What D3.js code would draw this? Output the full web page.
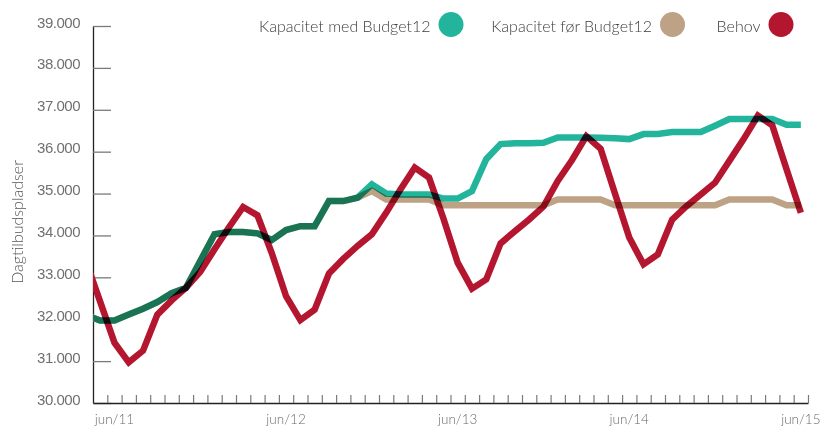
<!DOCTYPE html>
<html>
<head>
<meta charset="utf-8">
<script src="https://cdn.jsdelivr.net/npm/d3@7"></script>
<style>
  body { margin: 0; background: #fff; }
  svg { display: block; font-family: Lato, "Open Sans", sans-serif; }
  .line { fill: none; stroke-width: 6.5; mix-blend-mode: multiply; }
</style>
</head>
<body>
<div class="graphContainer"></div>
<script>
// months shown, first one (apr/11) sits just left of the axis and gets clipped
var months = ["apr/11","maj/11","jun/11","jul/11","aug/11","sep/11","okt/11","nov/11","dec/11",
  "jan/12","feb/12","mar/12","apr/12","maj/12","jun/12","jul/12","aug/12","sep/12","okt/12","nov/12","dec/12",
  "jan/13","feb/13","mar/13","apr/13","maj/13","jun/13","jul/13","aug/13","sep/13","okt/13","nov/13","dec/13",
  "jan/14","feb/14","mar/14","apr/14","maj/14","jun/14","jul/14","aug/14","sep/14","okt/14","nov/14","dec/14",
  "jan/15","feb/15","mar/15","apr/15","maj/15","jun/15"];

var xLabels = ["jun/11", "jun/12", "jun/13", "jun/14", "jun/15"];
var yTicks  = [30000, 31000, 32000, 33000, 34000, 35000, 36000, 37000, 38000, 39000];

var medBudget = [32100, 31970, 31970, 32110, 32250, 32410, 32620, 32750, 33390, 34030, 34080,
  34080, 34050, 33890, 34130, 34220, 34220, 34820, 34820, 34900, 35220,
  35000, 34980, 34980, 34980, 34880, 34880, 35060, 35820, 36180, 36200,
  36200, 36210, 36340, 36340, 36340, 36330, 36320, 36300, 36420, 36420,
  36470, 36470, 36470, 36620, 36780, 36780, 36780, 36780, 36640, 36640];

var forBudget = [32100, 31970, 31970, 32110, 32250, 32410, 32620, 32750, 33390, 34030, 34080,
  34080, 34050, 33890, 34130, 34220, 34220, 34820, 34820, 34900, 35060,
  34860, 34860, 34860, 34860, 34720, 34720, 34720, 34720, 34720, 34720,
  34720, 34720, 34860, 34860, 34860, 34860, 34720, 34720, 34720, 34720,
  34720, 34720, 34720, 34720, 34860, 34860, 34860, 34860, 34720, 34720];

var behov = [33390, 32420, 31440, 30970, 31250, 32110, 32450, 32750, 33130, 33670, 34190,
  34680, 34480, 33580, 32550, 31980, 32230, 33090, 33440, 33750, 34030,
  34540, 35100, 35620, 35380, 34410, 33350, 32730, 32950, 33810, 34100,
  34380, 34690, 35300, 35800, 36370, 36070, 35000, 33950, 33310, 33550,
  34380, 34700, 34980, 35260, 35780, 36300, 36860, 36630, 35580, 34540];

var series = [
  { name: "Kapacitet med Budget12", values: medBudget, color: "#22b59c", cx: 451 },
  { name: "Kapacitet før Budget12", values: forBudget, color: "#bda285", cx: 672.5 },
  { name: "Behov",                  values: behov,     color: "#b4162f", cx: 781 }
];

var w = 820,
    h = 430,
    plotLeft = 93, plotRight = 808, plotTop = 26, plotBottom = 403;

// category k is centred on x(k), tick marks sit between categories
var x = d3.scaleLinear()
  .domain([0.5, 50.5])
  .range([plotLeft, plotRight]);

var y = d3.scaleLinear()
  .domain([30000, 39000])
  .range([plotBottom, plotTop]);

var svg = d3.select(".graphContainer")
  .append("svg")
  .attr("width", w)
  .attr("height", h);

svg.append("clipPath")
  .attr("id", "plot")
  .append("rect")
    .attr("x", plotLeft)
    .attr("y", 0)
    .attr("width", w - plotLeft)
    .attr("height", h);

// y axis: ticks point inward, labels sit on the tick line
var axisLeft = d3.axisLeft(y)
  .tickValues(yTicks)
  .tickSizeInner(-18)
  .tickSizeOuter(0)
  .tickPadding(13)
  .tickFormat(function (d) { return d3.format(",")(d).replace(",", "."); });

var gy = svg.append("g")
  .attr("transform", "translate(" + plotLeft + ",0)")
  .call(axisLeft);

gy.select(".domain").attr("stroke", "#222").attr("stroke-width", 1.3);
gy.selectAll(".tick line").attr("stroke", "#7a7a7a").attr("stroke-width", 1.3);
gy.selectAll(".tick text")
  .attr("dy", 1)
  .attr("fill", "#707070")
  .style("font-size", "15px")
  .style("font-weight", 300)
  .style("letter-spacing", "-0.5px");

// x axis: one small tick per month
var axisBottom = d3.axisBottom(x)
  .tickValues(d3.range(1.5, 51, 1))
  .tickSizeInner(-8)
  .tickSizeOuter(0)
  .tickFormat("");

var gx = svg.append("g")
  .attr("transform", "translate(0," + plotBottom + ")")
  .call(axisBottom);

gx.select(".domain").attr("stroke", "#222").attr("stroke-width", 1.3);
gx.selectAll(".tick line").attr("stroke", "#7a7a7a").attr("stroke-width", 1.2);

svg.selectAll(".xlabel")
  .data(xLabels)
  .enter()
    .append("text")
      .attr("class", "xlabel")
      .attr("x", function (d) { return x(months.indexOf(d)); })
      .attr("y", 424)
      .attr("text-anchor", "middle")
      .attr("fill", "#6a6a6a")
      .style("font-size", "13.5px")
      .style("font-weight", 300)
      .text(function (d) { return d; });

svg.append("text")
  .attr("transform", "translate(23,222) rotate(-90)")
  .attr("text-anchor", "middle")
  .attr("fill", "#555")
  .style("font-size", "16px")
  .style("font-weight", 300)
  .text("Dagtilbudspladser");

// lines, multiplied so overlaps go dark like the original
var line = d3.line()
  .x(function (d, i) { return x(i); })
  .y(function (d) { return y(d); });

svg.append("g")
  .attr("clip-path", "url(#plot)")
  .selectAll("path")
  .data(series)
    .enter()
      .append("path")
        .attr("class", "line")
        .attr("stroke", function (d) { return d.color; })
        .attr("d", function (d) { return line(d.values); });

// legend
var legend = svg.selectAll(".legend")
  .data(series)
  .enter()
    .append("g")
      .attr("class", "legend")
      .attr("transform", function (d) { return "translate(" + d.cx + ",24.5)"; });

legend.append("circle")
  .attr("r", 12.5)
  .attr("fill", function (d) { return d.color; });

legend.append("text")
  .attr("x", -20.5)
  .attr("y", 7)
  .attr("text-anchor", "end")
  .attr("fill", "#3d3d3d")
  .style("font-size", "16px")
  .style("font-weight", 300)
  .text(function (d) { return d.name; });
</script>
</body>
</html>
